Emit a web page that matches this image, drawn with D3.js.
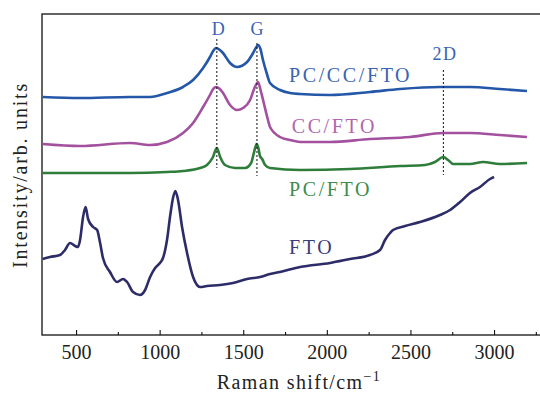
<!DOCTYPE html>
<html>
<head>
<meta charset="utf-8">
<script src="https://cdn.jsdelivr.net/npm/d3@7"></script>
<style>
  html, body { margin: 0; padding: 0; background: #fff; }
  svg { display: block; }
  svg text { font-family: "Liberation Serif", "DejaVu Serif", serif !important; }
</style>
</head>
<body>
<svg id="chart"></svg>
<script>
// Raman shift (cm^-1) and intensity (arb. units)
const pcccShift = [300, 524, 823, 943, 1044, 1140, 1200, 1260, 1301, 1320, 1337, 1360, 1379, 1421, 1463, 1523, 1559, 1575, 1589, 1603, 1618, 1640, 1660, 1720, 1780, 1840, 2019, 2258, 2438, 2677, 2856, 3036, 3197];
const pcccValue = [238, 237, 238, 238, 242, 248, 255, 267, 278, 284, 287, 285, 282, 272, 268, 273, 282, 287, 290, 286, 275, 262, 252, 245, 242, 241, 240, 243, 246, 248, 248, 246, 244];

const ccShift = [300, 524, 823, 943, 1044, 1140, 1200, 1260, 1301, 1320, 1337, 1360, 1379, 1421, 1463, 1499, 1541, 1565, 1589, 1605, 1620, 1648, 1660, 1720, 1780, 1840, 2019, 2258, 2498, 2695, 2856, 3036, 3197];
const ccValue = [191, 189, 192, 190, 193, 202, 212, 228, 240, 246, 248, 246, 242, 230, 225, 227, 235, 246, 253, 244, 234, 215, 208, 198, 195, 193, 193, 196, 198, 202, 202, 200, 198];

const pcShift = [300, 524, 823, 1044, 1140, 1242, 1283, 1319, 1342, 1362, 1391, 1451, 1511, 1547, 1565, 1580, 1592, 1600, 1613, 1631, 1660, 1840, 2139, 2438, 2587, 2647, 2697, 2725, 2755, 2856, 2934, 3036, 3197];
const pcValue = [162, 162, 162, 163, 164, 167, 170, 178, 187, 178, 170, 167, 167, 172, 183, 191, 186, 179, 176, 170, 167, 165, 166, 169, 170, 173, 178, 175, 171, 171, 173, 171, 172];

const ftoShift = [300, 344, 404, 434, 464, 494, 512, 524, 542, 557, 572, 602, 626, 644, 661, 703, 745, 781, 805, 841, 883, 913, 943, 973, 1002, 1020, 1044, 1062, 1080, 1094, 1110, 1134, 1164, 1200, 1242, 1283, 1361, 1439, 1523, 1601, 1660, 1720, 1840, 2019, 2139, 2258, 2318, 2348, 2378, 2396, 2468, 2557, 2677, 2737, 2797, 2856, 2916, 2976, 3000];
const ftoValue = [76, 78, 80, 85, 92, 89, 88, 95, 118, 128, 116, 108, 105, 92, 77, 63, 53, 56, 53, 43, 40, 45, 58, 67, 72, 77, 95, 118, 137, 144, 135, 108, 82, 58, 48, 49, 50, 52, 56, 58, 61, 63, 68, 72, 76, 80, 85, 95, 102, 105, 109, 113, 120, 125, 133, 142, 148, 156, 158];

// peak markers: name, shift, dotted line top / bottom (intensity)
const peakNames = ['D', 'G', '2D'];
const peakShift = [1342, 1582, 2697];
const peakTop = [296, 292, 265];
const peakBottom = [167, 159, 160];

const majorTicks = [500, 1000, 1500, 2000, 2500, 3000];
const minorTicks = [750, 1250, 1750, 2250, 2750, 3250];

const series = [
  { name: 'PC/CC/FTO', shift: pcccShift, value: pcccValue, color: '#2457a8', label: '#3a63b2', lx: 1774, ly: 253 },
  { name: 'CC/FTO', shift: ccShift, value: ccValue, color: '#a3519f', label: '#b066ae', lx: 1790, ly: 202 },
  { name: 'PC/FTO', shift: pcShift, value: pcValue, color: '#2f7d3b', label: '#3d8c4b', lx: 1774, ly: 139 },
  { name: 'FTO', shift: ftoShift, value: ftoValue, color: '#2d2c68', label: '#3c3c7a', lx: 1774, ly: 81 },
];

const width = 540, height = 394;
const marginLeft = 42, marginTop = 14, bottomY = 335;
const serif = '"Liberation Serif", "DejaVu Serif", serif';

const svg = d3.select('#chart').attr('width', width).attr('height', height).attr('font-family', serif);

const x = d3.scaleLinear([300, 3300], [42.6, 544.2]);
const y = d3.scaleLinear([0, 321], [bottomY, marginTop]);

// frame
svg.append('rect')
  .attr('x', marginLeft).attr('y', marginTop)
  .attr('width', x(3300) - marginLeft).attr('height', bottomY - marginTop)
  .attr('fill', 'none').attr('stroke', '#111').attr('stroke-width', 1.3);

// x axis, ticks pointing inward
svg.append('g')
  .attr('transform', `translate(0,${bottomY})`)
  .call(d3.axisBottom(x).tickValues(majorTicks).tickSizeInner(-5).tickSizeOuter(0).tickPadding(10).tickFormat(d3.format('d')))
  .attr('font-family', serif)
  .call((g) => g.select('.domain').remove())
  .call((g) => g.selectAll('.tick line').attr('stroke', '#111').attr('stroke-width', 1.1))
  .call((g) => g.selectAll('.tick text').attr('font-size', 20).attr('fill', '#222'));

svg.append('g')
  .attr('transform', `translate(0,${bottomY})`)
  .call(d3.axisBottom(x).tickValues(minorTicks).tickSizeInner(-3).tickSizeOuter(0).tickFormat(''))
  .call((g) => g.select('.domain').remove())
  .call((g) => g.selectAll('.tick line').attr('stroke', '#111').attr('stroke-width', 1.1));

// axis titles
const xTitle = svg.append('text')
  .attr('x', 299).attr('y', 389)
  .attr('text-anchor', 'middle')
  .attr('font-size', 20).attr('fill', '#222')
  .attr('letter-spacing', 1.4);
xTitle.append('tspan').text('Raman shift/cm');
xTitle.append('tspan').attr('dy', -8).attr('font-size', 14).text('−1');

svg.append('text')
  .attr('transform', 'translate(27,175) rotate(-90)')
  .attr('text-anchor', 'middle')
  .attr('font-size', 20).attr('fill', '#222')
  .attr('letter-spacing', 1.8)
  .text('Intensity/arb. units');

// spectra
const lines = svg.append('g');
series.forEach((s) => {
  const line = d3.line()
    .curve(d3.curveMonotoneX)
    .x((i) => x(s.shift[i]))
    .y((i) => y(s.value[i]));
  lines.append('path')
    .attr('fill', 'none')
    .attr('stroke', s.color)
    .attr('stroke-width', 2.6)
    .attr('stroke-linejoin', 'round')
    .attr('d', line(s.shift.map((_, i) => i)));

  svg.append('text')
    .attr('x', x(s.lx)).attr('y', y(s.ly))
    .attr('font-size', 20)
    .attr('letter-spacing', 2.6)
    .attr('fill', s.label)
    .text(s.name);
});

// peak markers
peakNames.forEach((name, i) => {
  svg.append('line')
    .attr('x1', x(peakShift[i])).attr('x2', x(peakShift[i]))
    .attr('y1', y(peakTop[i])).attr('y2', y(peakBottom[i]))
    .attr('stroke', '#111').attr('stroke-width', 1)
    .attr('stroke-dasharray', '2,2');
  svg.append('text')
    .attr('x', x(peakShift[i]) + (name === 'G' ? 0 : 1.5))
    .attr('y', name === '2D' ? 60 : 35)
    .attr('text-anchor', 'middle')
    .attr('font-size', 18)
    .attr('letter-spacing', name === '2D' ? 1.5 : 0)
    .attr('fill', '#3a63b2')
    .text(name);
});
</script>
</body>
</html>
